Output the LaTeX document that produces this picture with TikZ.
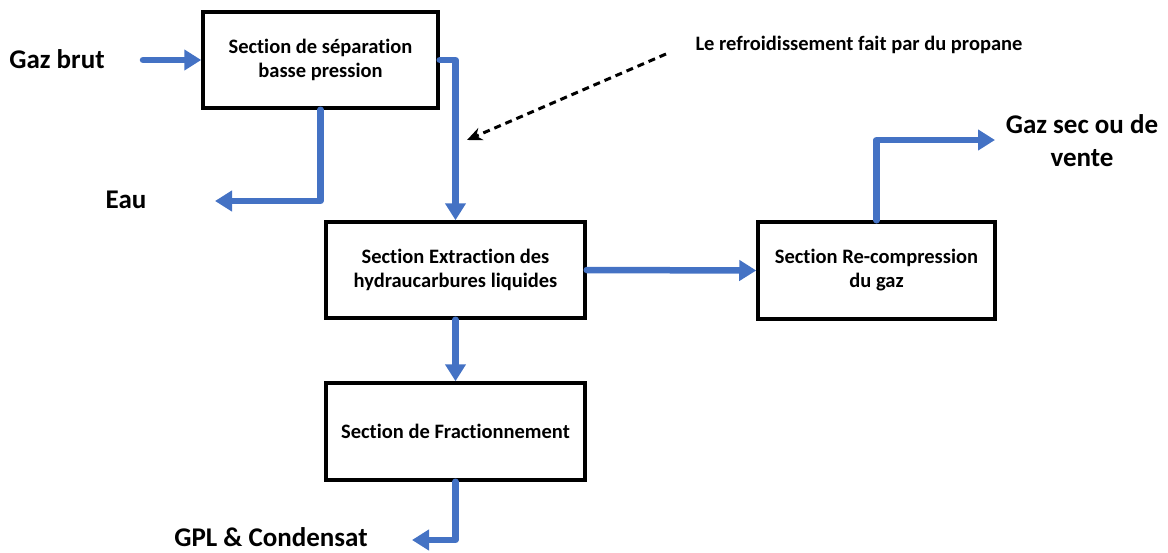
\documentclass[tikz,border=0pt]{standalone}
\usepackage{fontspec}
\setmainfont{Carlito}[Ligatures=CommonOff]
\usetikzlibrary{arrows.meta}
\definecolor{flowblue}{HTML}{4472C4}
\begin{document}
\begin{tikzpicture}[x=1pt,y=-1pt,
  sectionbox/.style={draw=black,line width=3.5pt,rectangle,inner sep=0pt,
    align=center,font=\fontsize{20.5}{24}\selectfont\bfseries},
  streamlabel/.style={inner sep=0pt,align=center,anchor=base,
    font=\fontsize{27}{33}\selectfont\bfseries},
  flow/.style={draw=flowblue,line width=6.5pt,line cap=round,line join=round,
    -{Triangle[length=17pt,width=20pt]}},
  remark/.style={draw=black,line width=3pt,dash pattern=on 7pt off 5pt,
    -{Stealth[length=15pt,width=13pt]}}]
  \useasboundingbox (0,0) rectangle (1168,552);

  % process sections
  \node[sectionbox,minimum width=235pt,minimum height=96pt] (sep) at (320.5,60)
    {Section de séparation\\basse pression};
  \node[sectionbox,minimum width=259pt,minimum height=96pt] (ext) at (455.5,270)
    {Section Extraction des\\hydraucarbures liquides};
  \node[sectionbox,minimum width=237pt,minimum height=97pt] (rec) at (876.5,270.5)
    {Section Re-compression\\du gaz};
  \node[sectionbox,minimum width=259pt,minimum height=97pt] (frac) at (455.5,431.5)
    {Section de Fractionnement};

  % stream labels (placed by the baseline of their last line)
  \node[streamlabel] (gazbrut) at (57,68) {Gaz brut};
  \node[streamlabel] (eau) at (126,208) {Eau};
  \node[streamlabel] (gpl) at (271,546.5) {GPL \& Condensat};
  \node[streamlabel] (gazsec) at (1082,166) {Gaz sec ou de\\vente};
  \node[inner sep=0pt,anchor=base,font=\fontsize{20.5}{24}\selectfont\bfseries] (note)
    at (859,50.5) {Le refroidissement fait par du propane};

  % free ends of the streams
  \coordinate (feed) at (143,60);
  \coordinate (water) at (215,201);
  \coordinate (lpg) at (412,540);
  \coordinate (sales) at (995,140);
  \coordinate (notetail) at (666,54);
  \coordinate (notehead) at (467,140);

  % flows
  \draw[flow] (feed) -- (sep.west);
  \draw[flow] (sep.east) -| (ext.north);
  \draw[flow] (sep.south) |- (water);
  \draw[flow] (ext.east) -- (rec.west);
  \draw[flow] (ext.south) -- (frac.north);
  \draw[flow] (frac.south) |- (lpg);
  \draw[flow] (rec.north) |- (sales);

  % propane cooling remark
  \draw[remark] (notetail) -- (notehead);
\end{tikzpicture}
\end{document}
